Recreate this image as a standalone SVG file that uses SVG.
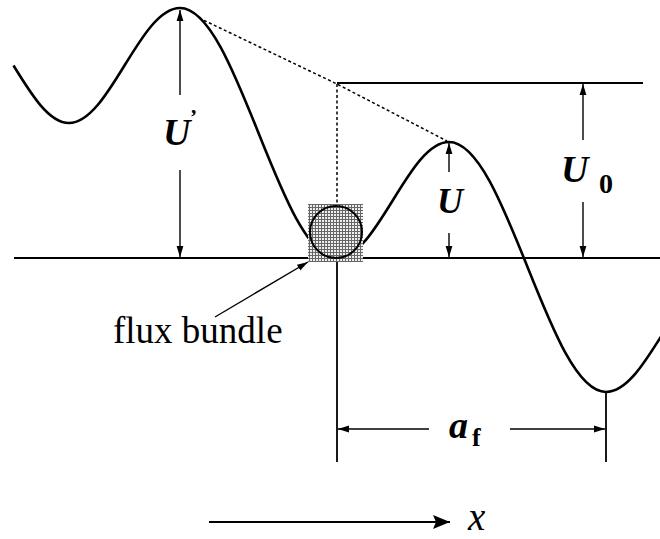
<svg xmlns="http://www.w3.org/2000/svg" width="660" height="539" viewBox="0 0 660 539">
<style>
.ln{stroke:#000;stroke-width:1.8;fill:none}
.thin{stroke:#000;stroke-width:1.4;fill:none}
.dash{stroke:#000;stroke-width:1.5;fill:none;stroke-dasharray:3 2.5}
.curve{stroke:#000;stroke-width:2.6;fill:none}
.lab{font-family:"Liberation Serif","Times New Roman",serif;font-weight:bold;font-style:italic;fill:#000}
.sub{font-family:"Liberation Serif","Times New Roman",serif;font-weight:bold;fill:#000}
.txt{font-family:"Liberation Serif","Times New Roman",serif;fill:#000}
</style>
<defs>
<marker id="ah" markerUnits="userSpaceOnUse" markerWidth="12" markerHeight="8" refX="11" refY="4" orient="auto">
<path d="M0,0.6 L11,4 L0,7.4 Z" fill="#000"/>
</marker>
<marker id="ahb" markerUnits="userSpaceOnUse" markerWidth="18" markerHeight="16" refX="17" refY="8" orient="auto">
<path d="M0,1 L17,8 L0,15 L3,8 Z" fill="#000"/>
</marker>
<pattern id="hatch" patternUnits="userSpaceOnUse" width="3" height="3">
<rect width="3" height="3" fill="#eeeeee"/>
<path d="M0,0.5 H3 M0.5,0 V3" stroke="#666" stroke-width="1"/>
</pattern>
</defs>

<g id="connectors">
<line class="ln" x1="14" y1="258" x2="660" y2="258"/>
<line class="ln" x1="337" y1="83" x2="643" y2="83"/>
<line class="ln" x1="337" y1="258" x2="337" y2="462"/>
<line class="ln" x1="606" y1="392" x2="606" y2="462"/>
<polyline class="dash" points="199,18 337,84 447,141"/>
<line class="dash" x1="337" y1="84" x2="337" y2="206"/>
<line class="thin" x1="180" y1="95" x2="180" y2="10" marker-end="url(#ah)"/>
<line class="thin" x1="180" y1="170" x2="180" y2="257" marker-end="url(#ah)"/>
<line class="thin" x1="449" y1="172" x2="449" y2="143" marker-end="url(#ah)"/>
<line class="thin" x1="449" y1="233" x2="449" y2="257" marker-end="url(#ah)"/>
<line class="thin" x1="583" y1="140" x2="583" y2="84" marker-end="url(#ah)"/>
<line class="thin" x1="583" y1="202" x2="583" y2="257" marker-end="url(#ah)"/>
<line class="thin" x1="429" y1="429" x2="338" y2="429" marker-end="url(#ah)"/>
<line class="thin" x1="510" y1="429" x2="605" y2="429" marker-end="url(#ah)"/>
<line class="thin" x1="215" y1="317" x2="308" y2="262" marker-end="url(#ah)"/>
<line class="ln" x1="209" y1="522" x2="450" y2="522" marker-end="url(#ahb)"/>
</g>

<g id="potential">
<path class="curve" d="M13.5,65.5 C31.2,94.3 48.9,123 69,123 C109.3,123 139.7,8 180,8 C237,8 280,258 337,258 C377.7,258 408.3,142 449,142 C506,142 549,392 606,392 C626.4,392 644.2,363.5 662,335"/>
</g>

<g id="flux-bundle">
<rect x="308" y="204" width="55" height="58" fill="url(#hatch)"/>
<circle cx="336" cy="232" r="26" fill="none" stroke="#000" stroke-width="2"/>
</g>

<g id="labels">
<text class="lab" x="163" y="145" font-size="38">U</text>
<text class="lab" x="189" y="124" font-size="22">’</text>
<text class="lab" x="437" y="213" font-size="36">U</text>
<text class="lab" x="561" y="182" font-size="38">U</text>
<text class="sub" x="599" y="193" font-size="28">0</text>
<text class="lab" x="449" y="438" font-size="38">a</text>
<text class="sub" x="472" y="446" font-size="26">f</text>
<text class="txt" x="113" y="343" font-size="37">flux bundle</text>
<text class="txt" x="468" y="530" font-size="39" font-style="italic">x</text>
</g>
</svg>
